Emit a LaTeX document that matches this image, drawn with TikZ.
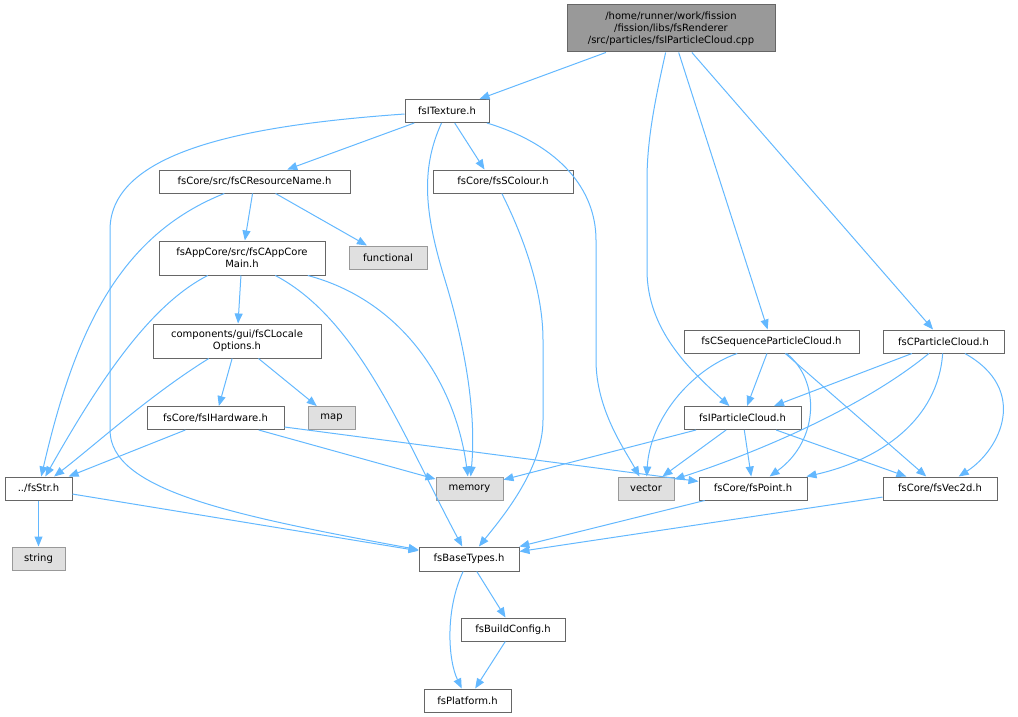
\documentclass[tikz,border=0pt]{standalone}
\usepackage{fontspec}
\setmainfont{DejaVu Sans}
\usetikzlibrary{arrows.meta}
\definecolor{edgec}{HTML}{63B8FF}
\definecolor{bord}{HTML}{666666}
\definecolor{gbord}{HTML}{999999}
\definecolor{gfill}{HTML}{E0E0E0}
\definecolor{rootfill}{HTML}{999999}
\tikzset{
  hdr/.style={draw=bord, fill=white, line width=0.75pt, inner sep=0pt, align=center,
    font=\fontsize{7.5}{9}\selectfont, minimum height=17.25pt},
  twoline/.style={minimum height=25.5pt},
  sysh/.style={hdr, draw=gbord, fill=gfill},
  rootn/.style={hdr, fill=rootfill, minimum height=35.25pt},
  edge/.style={draw=edgec, line width=0.75pt, -{Triangle[length=7.5pt,width=6pt]}},
}
\begin{document}
\begin{tikzpicture}[x=0.75pt, y=-0.75pt]
\useasboundingbox (0,0) rectangle (1018,717);
% nodes
\node[rootn, minimum width=156pt] (root) at (671,28.5) {/home/runner/work/fission\\/fission/libs/fsRenderer\\/src/particles/fsIParticleCloud.cpp};
\node[hdr, minimum width=63pt] (tex) at (447,111) {fsITexture.h};
\node[hdr, minimum width=143.25pt] (res) at (254.5,181.5) {fsCore/src/fsCResourceName.h};
\node[hdr, minimum width=105pt] (col) at (503,181.5) {fsCore/fsSColour.h};
\node[sysh, minimum width=58.5pt] (func) at (388,257.5) {functional};
\node[hdr, twoline, minimum width=124.5pt] (app) at (242,258) {fsAppCore/src/fsCAppCore\\Main.h};
\node[hdr, twoline, minimum width=126pt] (loc) at (237,341) {components/gui/fsCLocale\\Options.h};
\node[hdr, minimum width=102.75pt] (hw) at (215.5,418) {fsCore/fsIHardware.h};
\node[sysh, minimum width=35.25pt] (map) at (331.5,418) {map};
\node[hdr, minimum width=50.25pt] (str) at (38.5,488.5) {../fsStr.h};
\node[sysh, minimum width=39.75pt] (string) at (38.5,558.5) {string};
\node[sysh, minimum width=50.25pt] (mem) at (469.5,488.5) {memory};
\node[sysh, minimum width=42pt] (vec) at (646,488.5) {vector};
\node[hdr, minimum width=81pt] (pt) at (753,488.5) {fsCore/fsPoint.h};
\node[hdr, minimum width=85.5pt] (v2) at (940,488.5) {fsCore/fsVec2d.h};
\node[hdr, minimum width=87.75pt] (ipc) at (742.5,418) {fsIParticleCloud.h};
\node[hdr, minimum width=131.25pt] (seq) at (771.5,341.5) {fsCSequenceParticleCloud.h};
\node[hdr, minimum width=90.75pt] (cpc) at (943.5,341.5) {fsCParticleCloud.h};
\node[hdr, minimum width=75pt, minimum height=18pt] (base) at (469,559) {fsBaseTypes.h};
\node[hdr, minimum width=78pt] (bc) at (513,629.5) {fsBuildConfig.h};
\node[hdr, minimum width=65.25pt] (plat) at (467.5,700.5) {fsPlatform.h};
% edges from root
\draw[edge] (root) -- (tex);
\draw[edge] (root) .. controls (655,100) and (647,140) .. (647,180) -- (647,270) .. controls (647,330) and (690,370) .. (ipc);
\draw[edge] (root) -- (seq);
\draw[edge] (root) -- (cpc);
% fsITexture
\draw[edge] (tex) -- (res);
\draw[edge] (tex) -- ([xshift=39pt]col.north west);
\draw[edge] (tex) .. controls (420,170) and (425,215) .. (445,280) .. controls (468,355) and (476,420) .. (mem);
\draw[edge] (tex) .. controls (560,145) and (596,190) .. (596,240) -- (596,360) .. controls (596,410) and (625,450) .. (vec);
\draw[edge] (tex) .. controls (250,125) and (110,150) .. (110,230) -- (110,430) .. controls (110,490) and (230,515) .. (base);
% fsCResourceName
\draw[edge] (res) -- (app);
\draw[edge] (res) -- (func);
\draw[edge] (res) .. controls (120,235) and (75,330) .. (str);
% fsSColour
\draw[edge] ([xshift=52pt]col.south west) .. controls (530,250) and (543,300) .. (543,340) -- (543,420) .. controls (543,470) and (500,520) .. (base);
% fsCAppCoreMain
\draw[edge] (app) -- (loc);
\draw[edge] (app) .. controls (150,305) and (100,380) .. (str);
\draw[edge] (app) .. controls (400,300) and (455,380) .. (mem);
\draw[edge] (app) .. controls (360,320) and (405,440) .. (base);
% fsCLocaleOptions
\draw[edge] (loc) -- (hw);
\draw[edge] (loc) -- (map);
\draw[edge] (loc) .. controls (150,395) and (95,445) .. (str);
% fsIHardware
\draw[edge] (hw) -- (str);
\draw[edge] (hw) -- (mem);
\draw[edge] (hw) -- (pt);
% fsStr
\draw[edge] (str) -- (string);
\draw[edge] (str) -- (base);
% fsCSequenceParticleCloud
\draw[edge] (seq) .. controls (690,370) and (650,420) .. (vec);
\draw[edge] (seq) -- (ipc);
\draw[edge] (seq) .. controls (820,380) and (820,440) .. (pt);
\draw[edge] (seq) -- (v2);
% fsCParticleCloud
\draw[edge] (cpc) -- (ipc);
\draw[edge] (cpc) .. controls (860,410) and (750,455) .. (vec);
\draw[edge] (cpc) .. controls (938,420) and (880,460) .. (pt);
\draw[edge] (cpc) .. controls (1030,390) and (1000,450) .. (v2);
% fsIParticleCloud
\draw[edge] (ipc) -- (mem);
\draw[edge] (ipc) -- (vec);
\draw[edge] (ipc) -- (pt);
\draw[edge] (ipc) -- (v2);
% lower
\draw[edge] (pt) -- (base);
\draw[edge] (v2) -- (base);
\draw[edge] (base) -- (bc);
\draw[edge] (base) .. controls (445,610) and (448,660) .. (plat);
\draw[edge] (bc) -- (plat);
\end{tikzpicture}
\end{document}
